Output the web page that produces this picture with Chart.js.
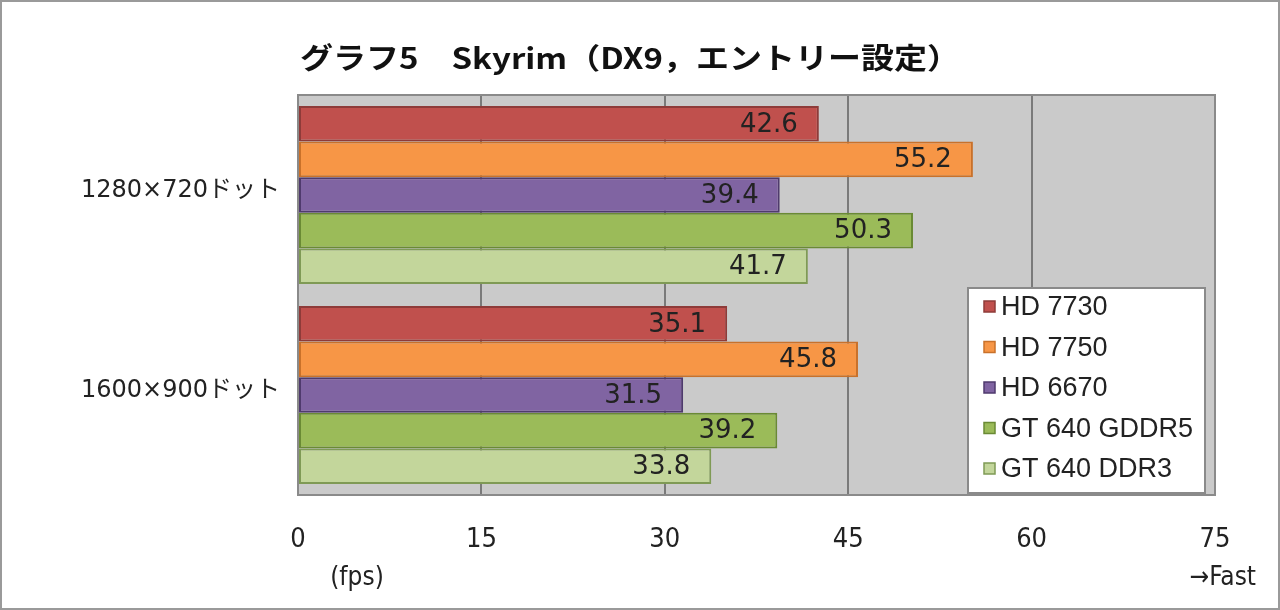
<!DOCTYPE html>
<html><head><meta charset="utf-8">
<style>
html,body{margin:0;padding:0;background:#fff;}
#wrap{width:1280px;height:610px;position:relative;box-sizing:border-box;border:2px solid #9a9a9a;}
canvas{display:block;}
</style>
<script src="https://cdn.jsdelivr.net/npm/chart.js@4/dist/chart.umd.min.js"></script>
</head><body>
<div id="wrap"><canvas id="c" width="1276" height="606"></canvas></div>
<script>
const titleText = 'グラフ5\u3000Skyrim（DX9，エントリー設定）';
const categories = ['1280×720ドット', '1600×900ドット'];
const seriesNames = ['HD 7730', 'HD 7750', 'HD 6670', 'GT 640 GDDR5', 'GT 640 DDR3'];
const hd7730 = [42.6, 35.1];
const hd7750 = [55.2, 45.8];
const hd6670 = [39.4, 31.5];
const gt640gddr5 = [50.3, 39.2];
const gt640ddr3 = [41.7, 33.8];
const xTicks = [0, 15, 30, 45, 60, 75];
const unitLabel = '(fps)';
const fastLabel = '→Fast';

const fills = ['#c0504d', '#f79646', '#8064a2', '#9bbb59', '#c3d69b'];
const borders = ['#8e3b39', '#c9712a', '#4f3a6d', '#6a8a34', '#7f9a55'];
const seriesValues = [hd7730, hd7750, hd6670, gt640gddr5, gt640ddr3];
const JP = '"Noto Sans CJK JP", "Noto Sans", sans-serif';
const WIDE = '"DejaVu Sans", "Noto Sans CJK JP", sans-serif';
const COND = '"DejaVu Sans Condensed", "DejaVu Sans", "Noto Sans CJK JP", sans-serif';

const datasets = seriesNames.map((n, i) => ({
  label: n, data: seriesValues[i], backgroundColor: fills[i], borderColor: borders[i],
  borderWidth: 2, borderSkipped: false, categoryPercentage: 0.89, barPercentage: 1.0
}));

const OFF = 2; // wrapper border offset
const deco = {
  id: 'deco',
  beforeDraw(chart) {
    const {ctx, chartArea: a} = chart;
    ctx.save();
    ctx.fillStyle = '#cacaca';
    ctx.fillRect(a.left, a.top, a.right - a.left, a.bottom - a.top);
    // title
    ctx.font = 'bold 29px ' + JP;
    ctx.fillStyle = '#111';
    ctx.textAlign = 'left';
    ctx.textBaseline = 'middle';
    const w = ctx.measureText(titleText).width;
    const target = 660;
    ctx.translate(300 - OFF, 58 - OFF);
    ctx.scale(target / w, 1);
    ctx.fillText(titleText, 0, 0);
    ctx.restore();
  },
  afterDatasetsDraw(chart) {
    const {ctx, chartArea: a} = chart;
    ctx.save();
    ctx.strokeStyle = '#8a8a8a';
    ctx.lineWidth = 2;
    ctx.strokeRect(a.left, a.top, a.right - a.left, a.bottom - a.top);
    // value labels
    ctx.font = '26px ' + WIDE;
    ctx.fillStyle = '#222';
    ctx.textAlign = 'right';
    ctx.textBaseline = 'middle';
    chart.data.datasets.forEach((ds, i) => {
      chart.getDatasetMeta(i).data.forEach((bar, j) => {
        ctx.fillText(ds.data[j].toFixed(1), bar.x - 21, bar.y + 1);
      });
    });
    // legend
    const lx = 968 - OFF, ly = 288 - OFF, lw = 237, lh = 205;
    ctx.fillStyle = '#fff';
    ctx.fillRect(lx, ly, lw, lh);
    ctx.strokeStyle = '#8a8a8a';
    ctx.lineWidth = 2;
    ctx.strokeRect(lx, ly, lw, lh);
    ctx.font = '27px "Liberation Sans", Arial, sans-serif';
    ctx.textAlign = 'left';
    chart.data.datasets.forEach((ds, i) => {
      const cy = ly + 19 + i * 40.5;
      ctx.fillStyle = ds.backgroundColor;
      ctx.fillRect(lx + 16, cy - 6, 11, 11);
      ctx.strokeStyle = ds.borderColor;
      ctx.lineWidth = 1.5;
      ctx.strokeRect(lx + 16, cy - 6, 11, 11);
      ctx.fillStyle = '#222';
      ctx.fillText(ds.label, lx + 33, cy + 1);
    });
    // axis notes
    ctx.font = '26px ' + COND;
    ctx.fillStyle = '#222';
    ctx.textAlign = 'center';
    ctx.fillText(unitLabel, 357 - OFF, 578 - OFF);
    ctx.textAlign = 'right';
    ctx.fillText(fastLabel, 1256 - OFF, 578 - OFF);
    ctx.restore();
  }
};

new Chart(document.getElementById('c'), {
  type: 'bar',
  data: { labels: categories, datasets },
  plugins: [deco],
  options: {
    indexAxis: 'y',
    responsive: false,
    animation: false,
    layout: { padding: { left: 0, right: 1276 - (1215 - OFF), top: 95 - OFF, bottom: 0 } },
    plugins: {
      legend: { display: false },
      tooltip: { enabled: false },
      title: { display: false }
    },
    scales: {
      x: {
        min: 0, max: 75,
        afterBuildTicks(s) { s.ticks = xTicks.map(v => ({ value: v })); },
        afterFit(s) { s.height = 606 - (495 - OFF); },
        grid: { color: '#7a7a7a', lineWidth: 2, drawTicks: false },
        border: { display: false },
        ticks: { color: '#222', font: { family: COND, size: 27 }, padding: 29, maxRotation: 0 }
      },
      y: {
        afterFit(s) { s.width = 298 - OFF; },
        grid: { display: false, drawTicks: false },
        border: { display: false },
        ticks: { color: '#222', font: { family: WIDE, size: 24 }, padding: 18, labelOffset: -4 }
      }
    }
  }
});
</script>
</body></html>
